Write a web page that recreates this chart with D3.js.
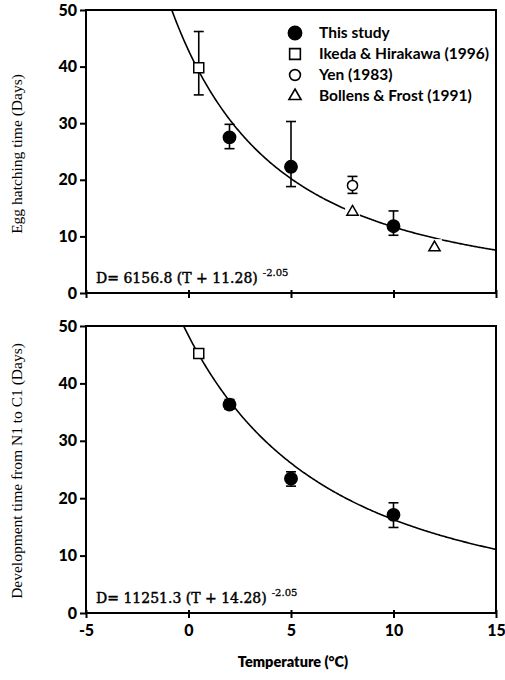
<!DOCTYPE html>
<html>
<head>
<meta charset="utf-8">
<script src="https://cdn.jsdelivr.net/npm/d3@7"></script>
<style>
  body { margin: 0; background: #fff; }
  svg { display: block; }
</style>
</head>
<body>
<svg width="505" height="680"></svg>
<script>
// x values (temperature, deg C)
const xTicks = [-5, 0, 5, 10, 15];
const yTicks = [0, 10, 20, 30, 40, 50];

// egg hatching time (top panel)
const eggStudyT = [2, 5, 10];
const eggStudyD = [27.5, 22.3, 11.8];
const eggStudyLo = [25.5, 18.8, 10.2];
const eggStudyHi = [29.8, 30.3, 14.5];

const eggIkedaT = [0.5];
const eggIkedaD = [39.8];
const eggIkedaLo = [35.0];
const eggIkedaHi = [46.2];

const eggYenT = [8];
const eggYenD = [19.0];
const eggYenLo = [17.6];
const eggYenHi = [20.6];

const eggBollensT = [8, 12];
const eggBollensD = [14.5, 8.2];

// development time N1 -> C1 (bottom panel)
const devStudyT = [2, 5, 10];
const devStudyD = [36.3, 23.4, 17.1];
const devStudyLo = [35.5, 22.1, 14.9];
const devStudyHi = [37.2, 24.6, 19.2];

const devIkedaT = [0.5];
const devIkedaD = [45.2];

// fitted curves D = a (T + b)^c
const fitA = [6156.8, 11251.3];
const fitB = [11.28, 14.28];
const fitC = -2.05;

const legendLabels = ["This study", "Ikeda & Hirakawa (1996)", "Yen (1983)", "Bollens & Frost (1991)"];

const svg = d3.select("svg");
const tickFont = "Lato, 'Open Sans', sans-serif";
const serifFont = "'Liberation Serif', 'DejaVu Serif', serif";
const eqFont = "'DejaVu Serif', serif";

const x = d3.scaleLinear().domain([-5, 15]).range([86, 496]);

function zip(ts, ds, lo, hi) {
    return ts.map((t, i) => ({t: t, d: ds[i], lo: lo ? lo[i] : null, hi: hi ? hi[i] : null}));
}

function makePanel(id, y0, y1, title, titleY, fitIdx, showXLabels) {
    const y = d3.scaleLinear().domain([0, 50]).range([y1, y0]);
    const g = svg.append("g").attr("id", id);

    g.append("clipPath").attr("id", id + "-clip")
      .append("rect")
      .attr("x", x(-5)).attr("y", y(50))
      .attr("width", x(15) - x(-5)).attr("height", y(0) - y(50));

    // fitted curve
    const curveTs = d3.range(-5, 15.01, 0.05);
    const line = d3.line()
        .x(t => x(t))
        .y(t => y(fitA[fitIdx] * Math.pow(t + fitB[fitIdx], fitC)));
    g.append("path")
      .attr("d", line(curveTs))
      .attr("clip-path", "url(#" + id + "-clip)")
      .attr("fill", "none")
      .attr("stroke", "#000")
      .attr("stroke-width", 1.6);

    // frame
    g.append("rect")
      .attr("x", x(-5)).attr("y", y(50))
      .attr("width", x(15) - x(-5)).attr("height", y(0) - y(50))
      .attr("fill", "none").attr("stroke", "#000").attr("stroke-width", 2);

    // y axis
    const yAxis = g.append("g")
      .attr("transform", "translate(" + x(-5) + ",0)")
      .call(d3.axisLeft(y).tickValues(yTicks).tickSize(6).tickPadding(3));
    yAxis.select(".domain").remove();
    yAxis.selectAll("line").attr("stroke-width", 2);
    yAxis.selectAll("text")
      .attr("font-family", tickFont).attr("font-weight", 900).attr("font-size", 16).attr("fill", "#000");

    // x axis
    const xAxis = g.append("g")
      .attr("transform", "translate(0," + y(0) + ")")
      .call(d3.axisBottom(x).tickValues(xTicks).tickSize(5).tickPadding(7)
            .tickFormat(showXLabels ? (d => String(d)) : () => ""));
    xAxis.select(".domain").remove();
    xAxis.selectAll("line").attr("stroke-width", 2).attr("y1", -3);
    xAxis.selectAll("text")
      .attr("font-family", tickFont).attr("font-weight", 900).attr("font-size", 16).attr("fill", "#000");

    // y title
    g.append("text")
      .attr("transform", "translate(22," + titleY + ") rotate(-90)")
      .attr("text-anchor", "middle")
      .attr("font-family", serifFont).attr("font-size", 15.5)
      .text(title);

    // equation
    const eq = g.append("text")
      .attr("x", 96).attr("y", y(0) - 10)
      .attr("font-family", eqFont).attr("font-size", 14)
      .attr("stroke", "#000").attr("stroke-width", 0.45);
    eq.append("tspan").text("D= " + fitA[fitIdx] + " (T + " + fitB[fitIdx].toFixed(2) + ")");
    eq.append("tspan").attr("dx", 5).attr("dy", -7).attr("font-size", 10).attr("stroke-width", 0.3)
      .text(fitC.toFixed(2));

    return {g: g, y: y};
}

function errorBars(p, pts) {
    const eb = p.g.append("g");
    pts.forEach(d => {
        eb.append("line").attr("x1", x(d.t)).attr("x2", x(d.t))
          .attr("y1", p.y(d.lo)).attr("y2", p.y(d.hi))
          .attr("stroke", "#000").attr("stroke-width", 1.6);
        [d.lo, d.hi].forEach(v => {
            eb.append("line").attr("x1", x(d.t) - 5).attr("x2", x(d.t) + 5)
              .attr("y1", p.y(v)).attr("y2", p.y(v))
              .attr("stroke", "#000").attr("stroke-width", 1.6);
        });
    });
}

const symType = {filled: d3.symbolCircle, square: d3.symbolSquare, open: d3.symbolCircle, tri: d3.symbolTriangle};
const symSize = {filled: 120, square: 100, open: 80, tri: 55};

function markers(p, pts, kind) {
    if (kind === "tri") {
        // white halo that breaks the curve around the triangles
        p.g.append("g").selectAll("path").data(pts).enter()
          .append("path")
          .attr("d", d3.symbol().type(d3.symbolSquare).size(220))
          .attr("transform", d => "translate(" + x(d.t) + "," + p.y(d.d) + ")")
          .attr("fill", "#fff");
    }
    p.g.append("g").selectAll("path").data(pts).enter()
      .append("path")
      .attr("d", d3.symbol().type(symType[kind]).size(symSize[kind]))
      .attr("transform", d => "translate(" + x(d.t) + "," + (p.y(d.d) + (kind === "tri" ? 1 : 0)) + ")")
      .attr("fill", kind === "filled" ? "#000" : "#fff")
      .attr("stroke", "#000")
      .attr("stroke-width", 1.5);
}

// top panel
const pTop = makePanel("egg", 10, 293, "Egg hatching time (Days)", 154, 0, false);
errorBars(pTop, zip(eggIkedaT, eggIkedaD, eggIkedaLo, eggIkedaHi));
errorBars(pTop, zip(eggStudyT, eggStudyD, eggStudyLo, eggStudyHi));
errorBars(pTop, zip(eggYenT, eggYenD, eggYenLo, eggYenHi));
markers(pTop, zip(eggIkedaT, eggIkedaD), "square");
markers(pTop, zip(eggStudyT, eggStudyD), "filled");
markers(pTop, zip(eggYenT, eggYenD), "open");
markers(pTop, zip(eggBollensT, eggBollensD), "tri");

// legend
const legKinds = ["filled", "square", "open", "tri"];
const leg = pTop.g.append("g");
legendLabels.forEach((lab, i) => {
    const ly = 33 + i * 21;
    const k = legKinds[i];
    leg.append("path")
      .attr("d", d3.symbol().type(symType[k]).size(symSize[k] * 1.15))
      .attr("transform", "translate(295," + ly + ")")
      .attr("fill", k === "filled" ? "#000" : "#fff")
      .attr("stroke", "#000").attr("stroke-width", 1.6);
    leg.append("text")
      .attr("x", 319).attr("y", ly + 5)
      .attr("font-family", tickFont).attr("font-weight", 700).attr("font-size", 15.5)
      .text(lab);
});

// bottom panel
const pBot = makePanel("dev", 326, 613, "Development time from N1 to C1 (Days)", 471, 1, true);
errorBars(pBot, zip(devStudyT, devStudyD, devStudyLo, devStudyHi));
markers(pBot, zip(devIkedaT, devIkedaD), "square");
markers(pBot, zip(devStudyT, devStudyD), "filled");

svg.append("text")
  .attr("x", 293).attr("y", 667)
  .attr("text-anchor", "middle")
  .attr("font-family", tickFont).attr("font-weight", 800).attr("font-size", 14.5)
  .text("Temperature (°C)");
</script>
</body>
</html>
